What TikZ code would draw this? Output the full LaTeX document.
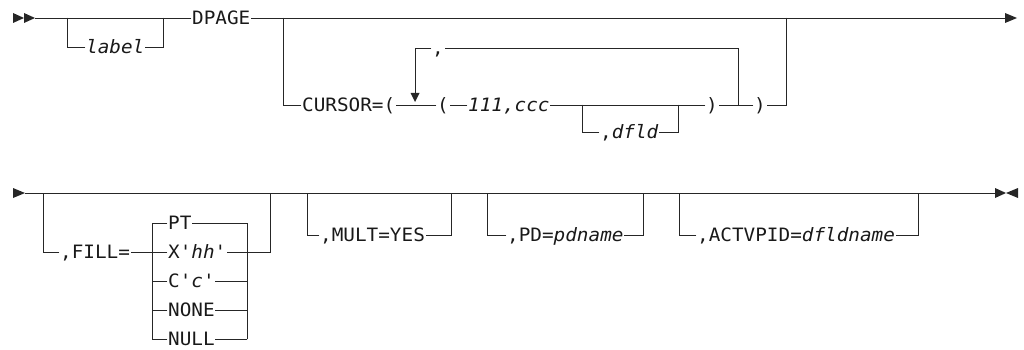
\documentclass[tikz,border=0pt]{standalone}
\usepackage{fontspec}
\setmonofont{DejaVu Sans Mono}[FakeStretch=1.05]
\usepackage{tikz}

\tikzset{
  rail/.style={line width=0.9pt, draw=black!85, line cap=rect},
  kw/.style={anchor=west, inner xsep=1pt, inner ysep=0pt, text height=13.4pt,
    text depth=0pt, text=black!90, font=\ttfamily\fontsize{18.4}{20}\selectfont},
  tip/.style={fill=black!85}
}

\begin{document}
\begin{tikzpicture}[x=1pt, y=-1pt]
  \useasboundingbox (0,0) rectangle (1024,350);
  % Row 1: ends
  \coordinate (r1s) at (35,18);
  \coordinate (r1e) at (1005,18);
  \fill[tip] (13,13) -- (24,18) -- (13,23) -- cycle;
  \fill[tip] (24,13) -- (35,18) -- (24,23) -- cycle;
  \fill[tip] (1005,13) -- (1017,18) -- (1005,23) -- cycle;
  % Row 1: keywords
  \node[kw] (label) at (85,47) {\textit{label}};
  \node[kw] (dpage) at (191,18) {DPAGE};
  \node[kw] (cursor) at (301,105) {CURSOR=(};
  \node[kw] (lpar) at (436,105) {(};
  \node[kw] (loc) at (467,105) {\textit{111,ccc}};
  \node[kw] (dfld) at (599,132) {,\textit{dfld}};
  \node[kw] (rpar) at (705,105) {)};
  \node[kw] (rpar2) at (753,105) {)};
  \node[kw] (sep) at (431,48) {,};
  % Row 1: rails
  \draw[rail] (r1s) -- (dpage.west);
  \draw[rail] (67,18) |- (label.west) (label.east) -| (163,18);
  \draw[rail] (dpage.east) -- (r1e);
  \draw[rail] (283,18) |- (cursor.west);
  \draw[rail] (cursor.east) -- (lpar.west) (lpar.east) -- (loc.west);
  \draw[rail] (loc.east) -- (rpar.west) (rpar.east) -- (rpar2.west)
    (rpar2.east) -| (786,18);
  \draw[rail] (582,105) |- (dfld.west) (dfld.east) -| (678,105);
  % Repeat loop
  \draw[rail] (738,105) |- (sep.east);
  \draw[rail] (sep.west) -| (415,94);
  \fill[tip] (410.5,93) -- (419.5,93) -- (415,102) -- cycle;

  % Row 2: ends
  \coordinate (r2s) at (25,193);
  \coordinate (r2e) at (995,193);
  \fill[tip] (13,188) -- (25,193) -- (13,198) -- cycle;
  \fill[tip] (995,188) -- (1006,193) -- (995,198) -- cycle;
  \fill[tip] (1018,188) -- (1006,193) -- (1018,198) -- cycle;
  \draw[rail] (r2s) -- (r2e);
  % FILL choices
  \node[kw] (fill) at (59,252) {,FILL=};
  \draw[rail] (43,193) |- (fill.west) (fill.east) -- (152,252);
  \foreach \name/\txt/\y in {pt/PT/223, hex/X'\textit{hh}'/252, chr/C'\textit{c}'/281,
      none/NONE/310, null/NULL/339}
    {
      \node[kw] (\name) at (167,\y) {\txt};
      \draw[rail] (152,\y) -- (\name.west) (\name.east) -- (247,\y);
    }
  \draw[rail] (152,223) -- (152,339) (247,223) -- (247,339);
  \draw[rail] (247,252) -| (270,193);
  % Optional operands
  \node[kw] (mult) at (319,235) {,MULT=YES};
  \node[kw] (pd) at (506,235) {,PD=\textit{pdname}};
  \node[kw] (actv) at (696,235) {,ACTVPID=\textit{dfldname}};
  \draw[rail] (307,193) |- (mult.west) (mult.east) -| (451,193);
  \draw[rail] (487,193) |- (pd.west) (pd.east) -| (643,193);
  \draw[rail] (679,193) |- (actv.west) (actv.east) -| (918,193);
\end{tikzpicture}
\end{document}
